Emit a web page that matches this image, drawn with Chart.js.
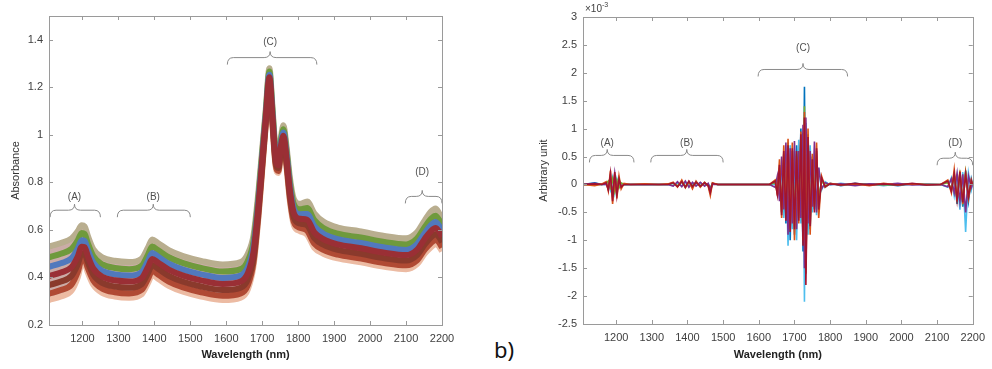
<!DOCTYPE html>
<html>
<head>
<meta charset="utf-8">
<script src="https://cdn.jsdelivr.net/npm/chart.js@4.4.1/dist/chart.umd.min.js"></script>
<style>
    html, body { margin: 0; padding: 0; background: #fff; }
    body { width: 992px; height: 369px; position: relative; overflow: hidden; }
    canvas { position: absolute; top: 0; }
    #absChart { left: 0; }
    #derivChart { left: 520px; }
    .panel-tag {
        position: absolute; left: 494px; top: 334px;
        font: 22px 'Noto Sans', 'Liberation Sans', sans-serif; color: #111;
    }
</style>
</head>
<body>
<canvas id="absChart" width="470" height="369"></canvas>
<canvas id="derivChart" width="472" height="369"></canvas>
<div class="panel-tag">b)</div>
<script>
// ---- Left panel: raw absorbance spectra ----
const wavelengths = [1107, 1140, 1170, 1187, 1198, 1206, 1215, 1230, 1255, 1290, 1330, 1365,
    1382, 1394, 1410, 1440, 1480, 1530, 1590, 1640, 1660, 1676, 1690, 1700, 1710, 1720,
    1728, 1737, 1745, 1752, 1759, 1767, 1777, 1788, 1805, 1825, 1845, 1870, 1910, 1970,
    2040, 2100, 2130, 2152, 2168, 2182, 2192, 2200];

const absTop = [0.53, 0.545, 0.565, 0.595, 0.62, 0.615, 0.575, 0.52, 0.485, 0.47, 0.465, 0.48,
    0.525, 0.56, 0.545, 0.515, 0.49, 0.47, 0.455, 0.465, 0.50, 0.58, 0.77, 0.94, 1.11, 1.28,
    1.13, 0.94, 0.91, 0.99, 1.04, 0.96, 0.82, 0.73, 0.71, 0.72, 0.67, 0.635, 0.61, 0.595,
    0.575, 0.565, 0.59, 0.64, 0.675, 0.69, 0.67, 0.645];
const absGreen = [0.485, 0.50, 0.521, 0.556, 0.587, 0.583, 0.544, 0.49, 0.455, 0.44, 0.435, 0.45,
    0.495, 0.53, 0.515, 0.485, 0.46, 0.44, 0.425, 0.435, 0.47, 0.554, 0.748, 0.922, 1.096, 1.266,
    1.114, 0.926, 0.896, 0.976, 1.024, 0.942, 0.80, 0.708, 0.687, 0.692, 0.641, 0.608, 0.584, 0.569,
    0.549, 0.539, 0.563, 0.612, 0.645, 0.66, 0.642, 0.618];
const absBlue = [0.445, 0.46, 0.481, 0.521, 0.557, 0.554, 0.516, 0.463, 0.428, 0.413, 0.408, 0.423,
    0.468, 0.503, 0.488, 0.458, 0.433, 0.413, 0.398, 0.408, 0.443, 0.531, 0.728, 0.906, 1.083, 1.253,
    1.10, 0.913, 0.883, 0.963, 1.01, 0.926, 0.782, 0.688, 0.666, 0.667, 0.615, 0.584, 0.561, 0.546,
    0.526, 0.516, 0.539, 0.587, 0.618, 0.633, 0.617, 0.594];
const absRed = [0.406, 0.421, 0.444, 0.488, 0.529, 0.527, 0.49, 0.438, 0.403, 0.388, 0.383, 0.398,
    0.443, 0.478, 0.463, 0.433, 0.408, 0.388, 0.373, 0.383, 0.418, 0.509, 0.71, 0.891, 1.072, 1.242,
    1.086, 0.902, 0.872, 0.952, 0.996, 0.911, 0.765, 0.67, 0.647, 0.643, 0.59, 0.561, 0.539, 0.524,
    0.504, 0.494, 0.516, 0.563, 0.593, 0.608, 0.593, 0.571];
const absBrown = [0.368, 0.383, 0.407, 0.455, 0.501, 0.50, 0.463, 0.412, 0.377, 0.362, 0.357, 0.372,
    0.417, 0.452, 0.437, 0.407, 0.382, 0.362, 0.347, 0.357, 0.392, 0.486, 0.691, 0.875, 1.06, 1.23,
    1.072, 0.89, 0.86, 0.94, 0.982, 0.895, 0.748, 0.651, 0.627, 0.619, 0.566, 0.538, 0.516, 0.501,
    0.481, 0.471, 0.493, 0.539, 0.567, 0.582, 0.569, 0.548];
const absRust = [0.332, 0.347, 0.371, 0.423, 0.475, 0.474, 0.439, 0.388, 0.353, 0.338, 0.333, 0.348,
    0.393, 0.428, 0.413, 0.383, 0.358, 0.338, 0.323, 0.333, 0.368, 0.466, 0.673, 0.861, 1.048, 1.218,
    1.06, 0.878, 0.848, 0.928, 0.97, 0.881, 0.732, 0.633, 0.609, 0.597, 0.542, 0.516, 0.496, 0.481,
    0.461, 0.451, 0.471, 0.517, 0.543, 0.558, 0.547, 0.526];
const absBottom = [0.305, 0.32, 0.345, 0.40, 0.455, 0.455, 0.42, 0.37, 0.335, 0.32, 0.315, 0.33,
    0.375, 0.41, 0.395, 0.365, 0.34, 0.32, 0.305, 0.315, 0.35, 0.45, 0.66, 0.85, 1.04, 1.21,
    1.05, 0.87, 0.84, 0.92, 0.96, 0.87, 0.72, 0.62, 0.595, 0.58, 0.525, 0.50, 0.48, 0.465,
    0.445, 0.435, 0.455, 0.50, 0.525, 0.54, 0.53, 0.51];

const absTicks = [0.2, 0.4, 0.6, 0.8, 1, 1.2, 1.4];

// ---- Right panel: derivative spectra, in units of 1e-3 ----
const derivWl = [1107, 1140, 1160,
    1172, 1178, 1184, 1190, 1196, 1202, 1208, 1214, 1222,
    1240, 1280, 1320,
    1345, 1360, 1372, 1384, 1394, 1404, 1414, 1424, 1436, 1448, 1458, 1464, 1470, 1485,
    1520, 1580, 1630,
    1646, 1652, 1658, 1664, 1670, 1676, 1682, 1688, 1694, 1700, 1706, 1712, 1718, 1724,
    1728, 1732, 1738, 1744, 1750, 1756, 1762, 1768, 1776, 1786,
    1800, 1830, 1870, 1910, 1950, 1990, 2030, 2070, 2110,
    2130, 2140, 2148, 2156, 2164, 2172, 2180, 2188, 2196, 2200];

const derivRed = [0, 0.01, 0,
    0.03, -0.1, 0.2, -0.3, 0.22, -0.2, 0.1, -0.05, 0,
    0, 0, 0,
    0, 0.03, -0.04, 0.05, -0.05, 0.06, -0.04, 0.04, -0.03, 0.03, -0.02, -0.15, 0.02, 0,
    0, 0, 0,
    0.06, -0.18, 0.35, -0.55, 0.6, -0.65, 0.7, -0.85, 0.65, -0.8, 0.6, -0.65, 0.9, -1.1,
    1.2, -1.8, 0.85, -0.75, 0.45, -0.5, 0.65, -0.45, 0.12, -0.04,
    0.01, -0.01, 0.02, -0.01, 0.01, -0.01, 0.02, -0.01, 0,
    0.06, -0.12, 0.2, -0.28, 0.22, -0.32, 0.18, -0.22, 0.07, 0];
const derivOrange = [0, -0.02, 0.01,
    0.05, -0.12, 0.25, -0.35, 0.18, -0.25, 0.15, -0.08, 0.02,
    0, 0.01, 0,
    0.01, 0.04, -0.05, 0.08, -0.06, 0.05, -0.08, 0.06, -0.05, 0.04, -0.03, -0.2, 0.03, 0,
    0, 0, 0,
    0.08, -0.2, 0.45, -0.6, 0.7, -0.5, 0.82, -0.8, 0.75, -1.0, 0.5, -0.7, 0.95, -1.0,
    1.3, -1.6, 1.0, -0.9, 0.55, -0.4, 0.75, -0.6, 0.15, -0.05,
    0.02, -0.01, 0.01, -0.02, 0.02, -0.01, 0.01, 0, 0,
    0.08, -0.15, 0.27, -0.3, 0.25, -0.35, 0.2, -0.25, 0.08, 0];
const derivPurple = [0, 0.02, 0,
    0, -0.05, 0.1, -0.18, 0.2, -0.12, 0.08, -0.04, 0,
    0, 0, 0,
    0, -0.03, 0.05, -0.04, 0.06, -0.05, 0.04, -0.03, 0.04, -0.03, 0.02, -0.08, 0, 0,
    0, 0, 0,
    -0.05, 0.15, -0.3, 0.5, -0.45, 0.75, -0.9, 0.65, -0.7, 0.78, -0.8, 0.6, -0.6, 1.07,
    -1.5, 1.2, -0.7, 0.6, -0.4, 0.77, -0.5, 0.3, -0.08, 0.03,
    0, 0.01, -0.02, 0.01, 0, 0.02, -0.01, 0, 0,
    -0.04, 0.1, -0.15, 0.2, -0.3, 0.18, -0.5, 0.15, -0.06, 0];
const derivGreen = [0, 0, 0,
    0.02, 0.06, -0.06, 0.1, -0.12, 0.08, -0.06, 0.03, 0,
    0, 0, 0,
    0, 0.02, -0.02, 0.04, -0.03, 0.03, -0.02, 0.03, -0.02, 0.02, -0.01, -0.06, 0.01, 0,
    0, 0, 0,
    0.03, -0.1, 0.2, -0.4, 0.4, -0.55, 0.6, -0.7, 0.5, -0.6, 0.55, -0.5, 0.8, -0.9,
    1.4, -1.1, 0.75, -0.6, 0.4, -0.35, 0.5, -0.25, 0.06, -0.02,
    0.01, 0, -0.01, 0.01, -0.01, 0, 0.01, 0, 0,
    0.03, -0.08, 0.15, -0.25, 0.17, -0.28, 0.22, -0.2, 0.06, 0];
const derivBlue = [0, 0.03, 0,
    0.02, -0.08, 0.15, -0.2, 0.12, -0.1, 0.06, -0.03, 0,
    0, 0, 0,
    0, 0.03, -0.04, 0.06, -0.05, 0.04, -0.03, 0.05, -0.04, 0.03, -0.02, -0.12, 0.02, 0,
    0, 0, 0,
    0.05, -0.15, 0.3, -0.5, 0.55, -0.7, 0.75, -1.0, 0.6, -0.9, 0.7, -0.6, 1.0, -1.2,
    1.75, -1.4, 0.9, -0.8, 0.5, -0.45, 0.6, -0.35, 0.1, -0.05,
    0.02, -0.02, 0.02, -0.01, 0.01, -0.02, 0.01, -0.01, 0,
    0.05, -0.1, 0.18, -0.35, 0.2, -0.4, 0.25, -0.3, 0.1, 0];
const derivCyan = [0, 0, 0,
    0, 0.05, -0.1, 0.12, -0.15, 0.1, -0.05, 0.02, 0,
    0, 0, 0,
    0, -0.02, 0.03, -0.03, 0.04, -0.03, 0.02, -0.02, 0.03, -0.02, 0.01, -0.05, 0.01, 0,
    0, 0, 0,
    0, 0.1, -0.2, 0.35, -0.6, 0.5, -1.1, 0.7, -0.8, 0.6, -1.0, 0.8, -0.7, 0.9,
    -2.1, 1.1, -0.9, 0.7, -0.5, 0.4, -0.55, 0.3, -0.1, 0.05,
    -0.01, 0.02, -0.01, 0.01, -0.02, 0.01, 0, 0.01, 0,
    -0.05, 0.12, -0.2, 0.15, -0.45, 0.22, -0.85, 0.2, -0.1, 0];

const wlTicks = [1200, 1300, 1400, 1500, 1600, 1700, 1800, 1900, 2000, 2100, 2200];

// Spectral regions marked with braces: label, start, peak, end wavelength
const regionLabels = ['(A)', '(B)', '(C)', '(D)'];
const regionStart = [1110, 1297, 1603, 2098];
const regionMid = [1178, 1397, 1722, 2145];
const regionEnd = [1250, 1500, 1852, 2200];
const absBraceLevel = [0.683, 0.683, 1.325, 0.741];
const absLabelLevel = [0.737, 0.737, 1.388, 0.842];
const derivRegionMid = [1175, 1398, 1724, 2151];
const derivRegionStart = [1125, 1297, 1598, 2100];
const derivRegionEnd = [1250, 1500, 1849, 2200];
const derivBraceLevel = [0.52, 0.52, 2.06, 0.47];
const derivLabelLevel = [0.735, 0.735, 2.44, 0.735];

const FONT = "'Liberation Sans', Arial, sans-serif";
const AXIS_GREY = '#9a9a9a';
const TEXT_GREY = '#404040';

function toPoints(xs, ys) {
    return xs.map((x, i) => ({ x: x, y: ys[i] }));
}

function fmt(v) {
    return String(Number(v.toFixed(2)));
}

// MATLAB-like box with inward ticks on all four sides
const boxPlugin = {
    id: 'box',
    afterDraw(chart) {
        const { ctx, chartArea: a, scales } = chart;
        ctx.save();
        ctx.strokeStyle = AXIS_GREY;
        ctx.lineWidth = 1;
        ctx.strokeRect(Math.round(a.left) + 0.5, Math.round(a.top) + 0.5,
            Math.round(a.width), Math.round(a.height));
        ctx.beginPath();
        scales.x.ticks.forEach(t => {
            const px = Math.round(scales.x.getPixelForValue(t.value)) + 0.5;
            ctx.moveTo(px, a.bottom); ctx.lineTo(px, a.bottom - 4);
            ctx.moveTo(px, a.top); ctx.lineTo(px, a.top + 4);
        });
        scales.y.ticks.forEach(t => {
            const py = Math.round(scales.y.getPixelForValue(t.value)) + 0.5;
            ctx.moveTo(a.left, py); ctx.lineTo(a.left + 4, py);
            ctx.moveTo(a.right, py); ctx.lineTo(a.right - 4, py);
        });
        ctx.stroke();
        ctx.restore();
    }
};

// Curly braces with region labels, placed in data coordinates
const bracePlugin = {
    id: 'braces',
    afterDatasetsDraw(chart, args, opts) {
        if (!opts || !opts.labels) return;
        const { ctx, scales: { x, y } } = chart;
        ctx.save();
        ctx.strokeStyle = '#8a8a8a';
        ctx.lineWidth = 1;
        ctx.fillStyle = '#505050';
        ctx.font = '10px ' + FONT;
        ctx.textAlign = 'center';
        ctx.textBaseline = 'middle';
        opts.labels.forEach((label, i) => {
            const x1 = x.getPixelForValue(opts.start[i]);
            const xm = x.getPixelForValue(opts.mid[i]);
            const x2 = x.getPixelForValue(opts.end[i]);
            const py = y.getPixelForValue(opts.level[i]);
            ctx.beginPath();
            ctx.moveTo(x1, py + 7);
            ctx.quadraticCurveTo(x1, py, x1 + 6, py);
            ctx.lineTo(xm - 6, py);
            ctx.quadraticCurveTo(xm, py, xm, py - 6);
            ctx.quadraticCurveTo(xm, py, xm + 6, py);
            ctx.lineTo(x2 - 6, py);
            ctx.quadraticCurveTo(x2, py, x2, py + 7);
            ctx.stroke();
            ctx.fillText(label, xm, y.getPixelForValue(opts.labelLevel[i]));
        });
        ctx.restore();
    }
};

// "x10^-3" multiplier above the right panel's y axis
const exponentPlugin = {
    id: 'exponent',
    afterDraw(chart, args, opts) {
        if (!opts || !opts.text) return;
        const { ctx, chartArea: a } = chart;
        ctx.save();
        ctx.fillStyle = TEXT_GREY;
        ctx.textBaseline = 'alphabetic';
        ctx.font = '10px ' + FONT;
        ctx.fillText(opts.text, a.left + 2, a.top - 5);
        const w = ctx.measureText(opts.text).width;
        ctx.font = '7px ' + FONT;
        ctx.fillText(opts.power, a.left + 2 + w, a.top - 10);
        ctx.restore();
    }
};

function xAxis(height) {
    return {
        type: 'linear',
        min: 1107,
        max: 2200,
        afterFit: s => { s.height = height; },
        afterBuildTicks: s => { s.ticks = wlTicks.map(v => ({ value: v })); },
        grid: { display: false, drawTicks: false },
        border: { display: false },
        ticks: {
            autoSkip: false, maxRotation: 0, padding: 7,
            color: TEXT_GREY, font: { family: FONT, size: 11 },
            callback: v => String(v)
        },
        title: {
            display: true, text: 'Wavelength (nm)', color: '#222',
            font: { family: FONT, size: 11, weight: 'bold' },
            padding: { top: 0, bottom: 7 }
        }
    };
}

function yAxis(width, min, max, step, title, titlePad) {
    return {
        min: min,
        max: max,
        afterFit: s => { s.width = width; },
        grid: { display: false, drawTicks: false },
        border: { display: false },
        ticks: {
            stepSize: step, includeBounds: false, padding: 6,
            color: TEXT_GREY, font: { family: FONT, size: 11 },
            callback: v => fmt(v)
        },
        title: {
            display: true, text: title, color: '#333',
            font: { family: FONT, size: 11 },
            padding: { top: titlePad, bottom: 0 }
        }
    };
}

// Left chart
const absSeries = [
    { data: absRed, color: '#9a2f35' },
    { data: absBrown, color: '#8a3a2c' },
    { data: absBlue, color: '#5179bd' },
    { data: absGreen, color: '#6f9a3c' },
    { data: absRust, color: '#b04a34' },
    { data: absTop, color: '#b9ae8f' },
    { data: absBottom, color: '#ecbba3' }
];

new Chart(document.getElementById('absChart'), {
    type: 'line',
    data: {
        datasets: absSeries.map((s, i) => ({
            data: toPoints(wavelengths, s.data),
            borderColor: s.color,
            borderWidth: 6,
            pointRadius: 0,
            cubicInterpolationMode: 'monotone',
            // soft band between the top and bottom spectra
            fill: i === absSeries.length - 1 ? 5 : false,
            backgroundColor: 'rgba(140, 70, 60, 0.45)'
        }))
    },
    options: {
        responsive: false,
        animation: false,
        devicePixelRatio: 1,
        layout: { padding: { top: 16, right: 28, bottom: 0, left: 0 } },
        plugins: {
            legend: { display: false },
            tooltip: { enabled: false },
            filler: { drawTime: 'beforeDatasetsDraw' },
            braces: {
                labels: regionLabels, start: regionStart, mid: regionMid, end: regionEnd,
                level: absBraceLevel, labelLevel: absLabelLevel
            }
        },
        scales: {
            x: xAxis(44),
            y: Object.assign(yAxis(49, 0.2, 1.5, 0.2, 'Absorbance', 9), {
                afterBuildTicks: s => { s.ticks = absTicks.map(v => ({ value: v })); }
            })
        }
    },
    plugins: [boxPlugin, bracePlugin]
});

// Right chart
const derivSeries = [
    { data: derivRed, color: '#A2142F' },
    { data: derivOrange, color: '#D95319' },
    { data: derivPurple, color: '#7E2F8E' },
    { data: derivGreen, color: '#77AC30' },
    { data: derivBlue, color: '#0072BD' },
    { data: derivCyan, color: '#4DBEEE' }
];

new Chart(document.getElementById('derivChart'), {
    type: 'line',
    data: {
        datasets: derivSeries.map(s => ({
            data: toPoints(derivWl, s.data),
            borderColor: s.color,
            borderWidth: 1.6,
            pointRadius: 0,
            tension: 0
        }))
    },
    options: {
        responsive: false,
        animation: false,
        devicePixelRatio: 1,
        layout: { padding: { top: 17, right: 16, bottom: 0, left: 0 } },
        plugins: {
            legend: { display: false },
            tooltip: { enabled: false },
            braces: {
                labels: regionLabels, start: derivRegionStart, mid: derivRegionMid, end: derivRegionEnd,
                level: derivBraceLevel, labelLevel: derivLabelLevel
            },
            exponent: { text: '\u00d710', power: '-3' }
        },
        scales: {
            x: xAxis(45),
            y: yAxis(63, -2.5, 3, 0.5, 'Arbitrary unit', 17)
        }
    },
    plugins: [boxPlugin, bracePlugin, exponentPlugin]
});
</script>
</body>
</html>
